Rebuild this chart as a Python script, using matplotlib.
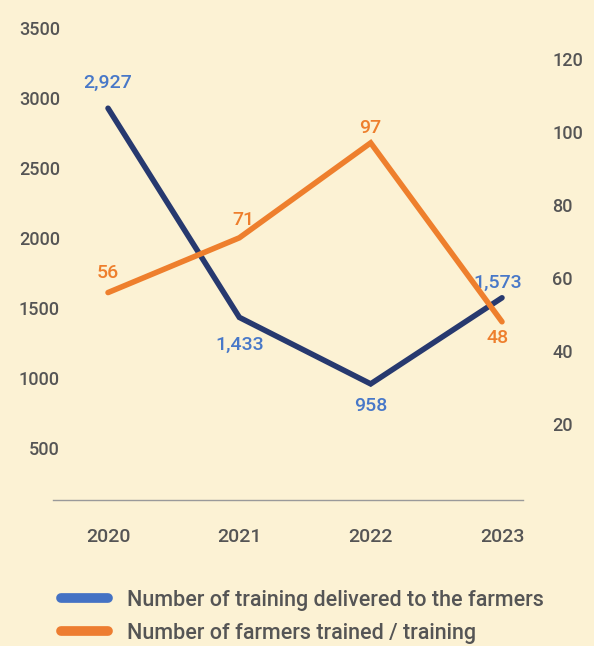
import matplotlib.pyplot as plt
from matplotlib.lines import Line2D

# data
years = ["2020", "2021", "2022", "2023"]
trainings = [2927, 1433, 958, 1573]
farmers = [56, 71, 97, 48]
left_ticks = [500, 1000, 1500, 2000, 2500, 3000, 3500]
right_ticks = [20, 40, 60, 80, 100, 120]
legend_labels = ["Number of training delivered to the farmers",
                 "Number of farmers trained / training"]

bg = "#FCF2D4"
navy = "#27396F"
orange = "#EE7F2D"
lbl_blue = "#4878C8"
gray = "#555555"

plt.rcParams["font.family"] = ["Roboto", "DejaVu Sans"]

W, H = 594, 646
fig = plt.figure(figsize=(W / 100, H / 100), dpi=100, facecolor=bg)
ax = fig.add_axes([53 / W, 1 - 500 / H, 470 / W, 490 / H])
ax.set_facecolor(bg)
ax2 = ax.twinx()

x = list(range(len(years)))
ax.plot(x, trainings, color=navy, lw=4, solid_capstyle="round",
        solid_joinstyle="miter", zorder=3)
ax2.plot(x, farmers, color=orange, lw=4, solid_capstyle="round",
         solid_joinstyle="miter", zorder=3)

ax.set_xlim(-0.419, 3.16)
ax.set_ylim(128.6, 3628.6)
ax2.set_ylim(-0.82, 133.4)

for a in (ax, ax2):
    for s in a.spines.values():
        s.set_visible(False)
ax.spines["bottom"].set_visible(True)
ax.spines["bottom"].set_color("#9a9a9a")
ax.spines["bottom"].set_linewidth(1)

ax.set_xticks(x)
ax.set_xticklabels(years)
ax.set_yticks(left_ticks)
ax2.set_yticks(right_ticks)
ax.tick_params(axis="x", length=0, pad=20, labelsize=14, labelcolor=gray)
ax.tick_params(axis="y", length=0, pad=-5, labelsize=13, labelcolor=gray)
ax2.tick_params(axis="y", length=0, pad=21, labelsize=13, labelcolor=gray)
for lab in ax.get_xticklabels() + ax.get_yticklabels() + ax2.get_yticklabels():
    lab.set_fontweight("medium")

# value labels (offsets in points)
t_off = [(0, 18), (0, -20), (0, -16), (-3, 11)]
f_off = [(0, 14), (3, 13), (0, 11), (-3, -12)]
for i in x:
    ax.annotate(f"{trainings[i]:,}", (i, trainings[i]), xytext=t_off[i],
                textcoords="offset points", ha="center", va="center",
                color=lbl_blue, fontsize=14, fontweight="medium")
    ax2.annotate(f"{farmers[i]}", (i, farmers[i]), xytext=f_off[i],
                 textcoords="offset points", ha="center", va="center",
                 color=orange, fontsize=14, fontweight="medium")

handles = [Line2D([], [], color="#4472C4", lw=7, solid_capstyle="round"),
           Line2D([], [], color="#ED7D31", lw=7, solid_capstyle="round")]
leg = fig.legend(handles, legend_labels, loc="upper left",
                 bbox_to_anchor=(61 / W, 1 - 590 / H), frameon=False,
                 fontsize=15.5, handlelength=2.2, handletextpad=0.85,
                 labelspacing=0.55, borderpad=0, borderaxespad=0)
for t in leg.get_texts():
    t.set_color(gray)
    t.set_fontweight("medium")

fig.savefig("out.png", dpi=100, facecolor=bg)
